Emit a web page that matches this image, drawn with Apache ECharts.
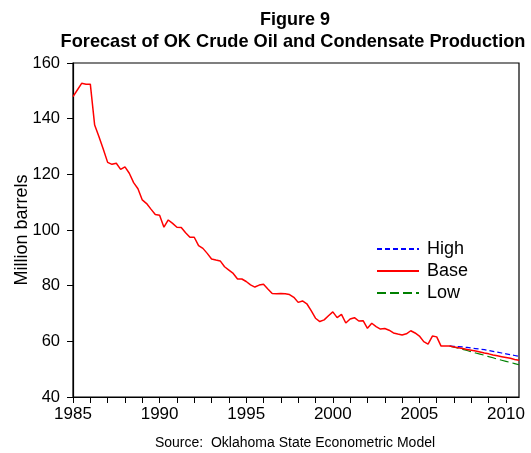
<!DOCTYPE html>
<html>
<head>
<meta charset="utf-8">
<script src="https://cdn.jsdelivr.net/npm/echarts@6/dist/echarts.min.js"></script>
<style>
html,body{margin:0;padding:0;background:#fff;}
#c{width:531px;height:453px;}
</style>
</head>
<body>
<div id="c"></div>
<script>
// Quarterly history, starting 1985 Q1
var histStart = 1985;
var histValues = [
147.9,150.3,152.7,152.4, 152.4,137.7,133.5,129.0, 124.3,123.6,124.0,121.8,
122.7,120.4,117.0,114.8, 110.8,109.5,107.5,105.6, 105.3,101.0,103.6,102.4,
101.0,100.9,99.0,97.4, 97.4,94.4,93.4,91.6, 89.6,89.2,88.9,86.8,
85.6,84.4,82.4,82.4, 81.5,80.3,79.5,80.2, 80.5,78.8,77.2,77.1,
77.2,77.1,76.8,75.8, 74.0,74.5,73.5,71.0, 68.3,67.1,67.7,69.2,
70.6,68.5,69.7,66.6, 68.0,68.5,67.3,67.4, 64.7,66.5,65.3,64.4,
64.6,64.0,63.0,62.6, 62.3,62.7,63.8,63.0, 61.9,59.9,59.0,61.9,
61.6,58.3,58.3,58.3
];
// Quarterly forecast, starting 2006 Q4
var fcStart = 2006.75;
var highValues = [58.3,58.2,58.1,58.0,57.8,57.6,57.4,57.2,57.0,56.7,56.4,56.1,55.8,55.5,55.2,54.9,54.6];
var baseValues = [58.3,58.0,57.7,57.4,57.1,56.8,56.5,56.2,55.8,55.5,55.1,54.8,54.5,54.2,53.9,53.5,53.2];
var lowValues  = [58.3,57.9,57.5,57.1,56.7,56.2,55.8,55.4,55.0,54.5,54.1,53.6,53.2,52.8,52.4,52.0,51.6];
var seriesNames = ['High','Base','Low'];
var yTicks = [40,60,80,100,120,140,160];
var xLabelYears = [1985,1990,1995,2000,2005,2010];

function pairs(start, vals){
  return vals.map(function(v,i){ return [start + i/4, v]; });
}
var histPairs = pairs(histStart, histValues);

var chart = echarts.init(document.getElementById('c'), null, {renderer:'canvas'});
var font = 'Liberation Sans, Arial, sans-serif';
chart.setOption({
  animation:false,
  backgroundColor:'#fff',
  title:[
    {text:'Figure 9', left:290, textAlign:'center', top:6,
     textStyle:{fontFamily:font,fontSize:18,fontWeight:'bold',color:'#000'}},
    {text:'Forecast of OK Crude Oil and Condensate Production', left:288, textAlign:'center', top:28,
     textStyle:{fontFamily:font,fontSize:18.2,fontWeight:'bold',color:'#000'}},
    {text:'Source:  Oklahoma State Econometric Model', left:290, textAlign:'center', top:431,
     textStyle:{fontFamily:font,fontSize:14,fontWeight:'normal',color:'#000'}}
  ],
  legend:{
    orient:'vertical', left:371, top:235, itemWidth:42, itemHeight:14, itemGap:4, padding:5,
    data:seriesNames,
    itemStyle:{opacity:0},
    textStyle:{fontFamily:font,fontSize:18,color:'#000',padding:[0,0,0,3]}
  },
  grid:{left:73,top:63,right:12,bottom:56,outerBoundsMode:'none',containLabel:false,
    show:true,borderColor:'#000',borderWidth:1.2,backgroundColor:'transparent'},
  xAxis:{
    type:'value', min:1985, max:2010.75, interval:1,
    splitLine:{show:false},
    axisLine:{lineStyle:{color:'#000',width:1.2}},
    axisTick:{length:6,lineStyle:{color:'#000'}},
    axisLabel:{fontFamily:font,fontSize:17,color:'#000',margin:9,showMaxLabel:false,
      formatter:function(v){ return xLabelYears.indexOf(v) >= 0 ? String(v) : ''; }}
  },
  yAxis:{
    type:'value', min:yTicks[0], max:yTicks[yTicks.length-1], interval:20,
    name:'Million barrels', nameLocation:'middle', nameGap:42, nameRotate:90,
    nameMoveOverlap:false,
    nameTextStyle:{fontFamily:font,fontSize:18,color:'#000'},
    splitLine:{show:false},
    axisLine:{show:true,lineStyle:{color:'#000',width:1.2}},
    axisTick:{show:true,length:6,lineStyle:{color:'#000'}},
    axisLabel:{fontFamily:font,fontSize:16.5,color:'#000',margin:13}
  },
  series:[
    {name:'High',type:'line',symbol:'none',data:pairs(fcStart,highValues),
     lineStyle:{color:'#0000ff',width:1.2,type:[5,3]},itemStyle:{color:'#0000ff'},z:3},
    {name:'Base',type:'line',symbol:'none',data:histPairs.concat(pairs(fcStart,baseValues).slice(1)),
     lineStyle:{color:'#ff0000',width:1.5},itemStyle:{color:'#ff0000'},z:4},
    {name:'Low',type:'line',symbol:'none',data:pairs(fcStart,lowValues),
     lineStyle:{color:'#008000',width:1.2,type:[9,4]},itemStyle:{color:'#008000'},z:2}
  ]
});
</script>
</body>
</html>
